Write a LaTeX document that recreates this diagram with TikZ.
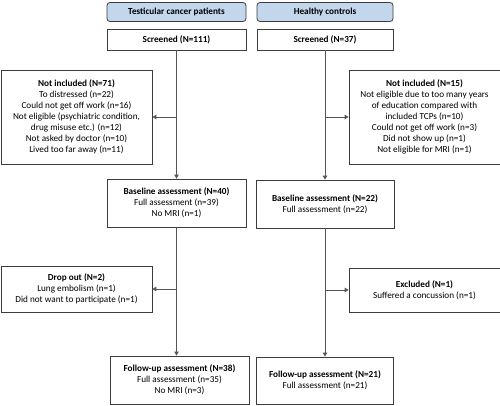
\documentclass[tikz,border=0pt]{standalone}
\usepackage{fontspec}
\setmainfont{Carlito}
\usetikzlibrary{arrows.meta}
\definecolor{hdrfill}{RGB}{194,214,236}
\definecolor{edge}{RGB}{60,60,60}
\definecolor{conn}{RGB}{85,85,85}
\tikzset{
  box/.style={draw=edge, line width=0.8pt, fill=white, align=center, inner sep=1pt,
    font=\fontsize{9.2}{11}\selectfont},
  hdr/.style={box, fill=hdrfill, rounded corners=3pt},
  conn/.style={draw=conn, line width=0.9pt, -{Triangle[width=4.5pt,length=4pt]}},
  plain/.style={draw=conn, line width=0.9pt}
}
\begin{document}
\begin{tikzpicture}[x=1pt,y=-1pt]
\useasboundingbox (0,0) rectangle (500,405);
% TCP column
\node[hdr, minimum width=139pt, minimum height=19pt] (hT) at (176.5,12) {\textbf{Testicular cancer patients}};
\node[box, minimum width=139pt, minimum height=21pt] (sT) at (176.5,39.5) {\textbf{Screened (N=111)}};
\node[box, minimum width=151pt, minimum height=94pt] (nT) at (76.5,117) {\textbf{Not included (N=71)}\\To distressed (n=22)\\Could not get off work (n=16)\\Not eligible (psychiatric condition,\\drug misuse etc.) (n=12)\\Not asked by doctor (n=10)\\Lived too far away (n=11)};
\node[box, minimum width=139pt, minimum height=48pt] (bT) at (176.5,203) {\textbf{Baseline assessment (N=40)}\\Full assessment (n=39)\\No MRI (n=1)};
\node[box, minimum width=151pt, minimum height=46pt] (dT) at (76.5,289) {\textbf{Drop out (N=2)}\\Lung embolism (n=1)\\Did not want to participate (n=1)};
\node[box, minimum width=139pt, minimum height=48pt] (fT) at (179.5,380) {\textbf{Follow-up assessment (N=38)}\\Full assessment (n=35)\\No MRI (n=3)};
% HC column
\node[hdr, minimum width=136pt, minimum height=19pt] (hH) at (325,12) {\textbf{Healthy controls}};
\node[box, minimum width=136pt, minimum height=21pt] (sH) at (325,39.5) {\textbf{Screened (N=37)}};
\node[box, minimum width=151pt, minimum height=94pt] (nH) at (424.5,117) {\textbf{Not included (N=15)}\\Not eligible due to too many years\\of education compared with\\included TCPs (n=10)\\Could not get off work (n=3)\\Did not show up (n=1)\\Not eligible for MRI (n=1)};
\node[box, minimum width=138pt, minimum height=48pt] (bH) at (325,204) {\textbf{Baseline assessment (N=22)}\\Full assessment (n=22)};
\node[box, minimum width=151pt, minimum height=44pt] (eH) at (424.5,290) {\textbf{Excluded (N=1)}\\Suffered a concussion (n=1)};
\node[box, minimum width=137pt, minimum height=47pt] (fH) at (325,380.5) {\textbf{Follow-up assessment (N=21)}\\Full assessment (n=21)};
% connectors TCP
\draw[conn] (sT.south) -- (bT.north);
\draw[conn] (nT.east -| sT.south) -- (nT.east);
\draw[conn] (bT.south) -- (bT.south |- fT.north);
\draw[conn] (dT.east -| bT.south) -- (dT.east);
% connectors HC
\draw[conn] (sH.south) -- (bH.north);
\draw[conn] (nH.west -| sH.south) -- (nH.west);
\draw[conn] (bH.south) -- (fH.north);
\draw[conn] (eH.west -| bH.south) -- (eH.west);
\end{tikzpicture}
\end{document}
